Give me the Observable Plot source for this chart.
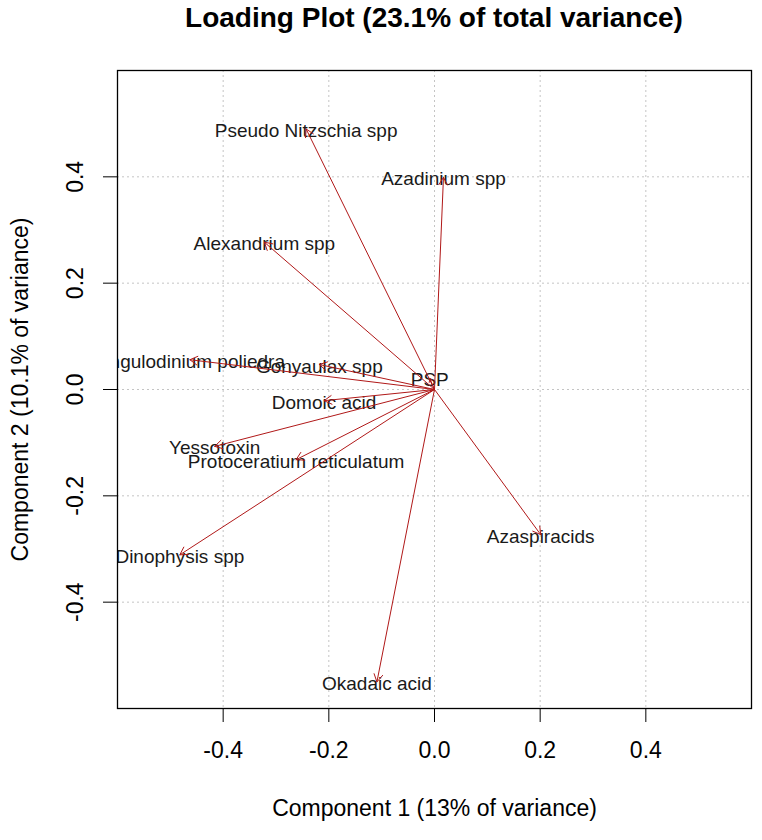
<!DOCTYPE html>
<html><head><meta charset="utf-8">
<script src="https://cdn.jsdelivr.net/npm/d3@7"></script>
<script src="https://cdn.jsdelivr.net/npm/@observablehq/plot@0.6"></script>
<style>
body{margin:0;background:#fff;font-family:"Liberation Sans",Arial,sans-serif;}
#title{width:762px;height:40px;box-sizing:border-box;padding-left:117px;padding-right:11px;text-align:center;font-size:28px;font-weight:bold;line-height:36px;color:#000;white-space:nowrap;}
</style></head><body>
<div id="title">Loading Plot (23.1% of total variance)</div>
<div id="chart"></div>
<script>
const variables = ["Pseudo Nitzschia spp","Azadinium spp","Alexandrium spp","Lingulodinium poliedra","Gonyaulax spp","Domoic acid","Yessotoxin","Protoceratium reticulatum","Dinophysis spp","Azaspiracids","Okadaic acid","PSP"];
const comp1 = [-0.243, 0.017, -0.322, -0.463, -0.218, -0.209, -0.416, -0.262, -0.482, 0.201, -0.109, -0.009];
const comp2 = [0.490, 0.399, 0.277, 0.056, 0.047, -0.021, -0.107, -0.132, -0.311, -0.273, -0.550, 0.021];
const tickValues = [-0.4, -0.2, 0, 0.2, 0.4];
const xTitle = "Component 1 (13% of variance)";
const yTitle = "Component 2 (10.1% of variance)";

const data = variables.map((name, i) => ({name, x: comp1[i], y: comp2[i]}));
const fmt = d => d.toFixed(1);
const font = "Liberation Sans, Arial, sans-serif";
const arrowColor = "#b01818";

const chart = Plot.plot({
  width: 762, height: 800,
  marginLeft: 117, marginRight: 11, marginTop: 30, marginBottom: 132,
  style: {fontFamily: font, background: "#fff", color: "#000", overflow: "visible"},
  x: {domain: [-0.6, 0.6]},
  y: {domain: [-0.6, 0.6]},
  marks: [
    Plot.gridX(tickValues, {stroke: "#c4c4c4", strokeOpacity: 1, strokeDasharray: "2,3"}),
    Plot.gridY(tickValues, {stroke: "#c4c4c4", strokeOpacity: 1, strokeDasharray: "2,3"}),
    Plot.axisX(tickValues, {tickSize: 14, tickPadding: 19, tickFormat: fmt, fontSize: 23, label: null, stroke: "#000"}),
    Plot.axisY(tickValues, {tickSize: 14, tickFormat: () => "", label: null, stroke: "#000"}),
    Plot.text(tickValues, {y: d => d, text: fmt, frameAnchor: "left", textAnchor: "middle", lineAnchor: "middle", dx: -42, rotate: -90, fontSize: 23, fill: "#000"}),
    Plot.text([xTitle], {text: d => d, frameAnchor: "bottom", lineAnchor: "middle", dy: 100, fontSize: 23, fill: "#000"}),
    Plot.text([yTitle], {text: d => d, frameAnchor: "left", textAnchor: "middle", lineAnchor: "middle", dx: -97, rotate: -90, fontSize: 23, fill: "#000"}),
    Plot.text(data, {x: "x", y: "y", text: "name", fontSize: 19, dy: 2, fill: "#1a1a1a", clip: true}),
    Plot.arrow(data, {x1: d => 0, y1: d => 0, x2: "x", y2: "y", stroke: arrowColor, strokeWidth: 1, headLength: 13, headAngle: 60}),
    Plot.frame({stroke: "#000", strokeWidth: 1.3})
  ]
});
document.getElementById("chart").appendChild(chart);
</script>
</body></html>
